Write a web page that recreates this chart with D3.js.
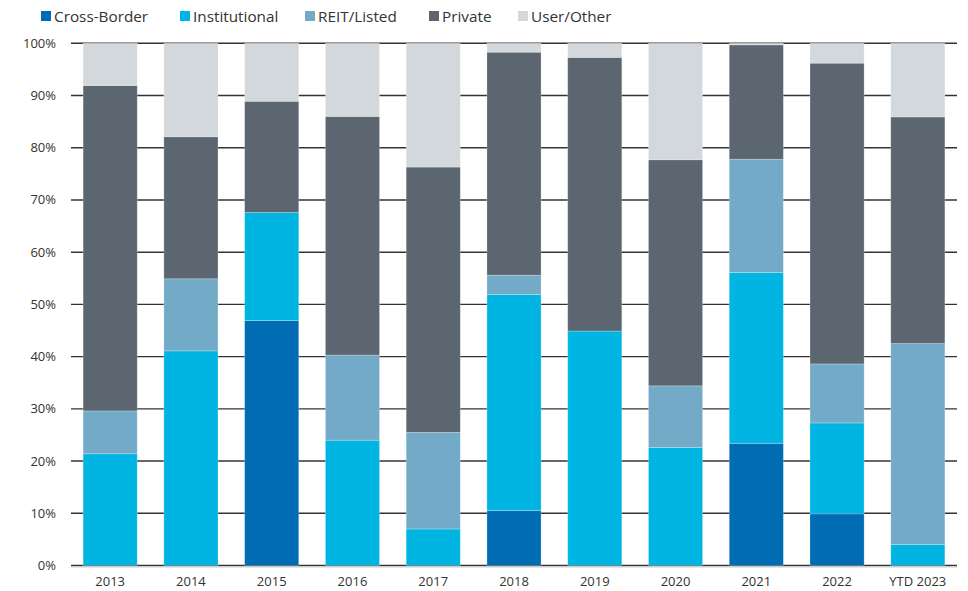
<!DOCTYPE html>
<html>
<head>
<meta charset="utf-8">
<script src="https://cdn.jsdelivr.net/npm/d3@7"></script>
<style>
  body { margin: 0; background: #fff; }
  svg text { font-family: "Open Sans", sans-serif; fill: #333; }
</style>
</head>
<body>
<div id="app"></div>
<script>
const years = [`2013`, `2014`, `2015`, `2016`, `2017`, `2018`, `2019`, `2020`, `2021`, `2022`, `YTD 2023`];
const seriesNames = [`Cross-Border`, `Institutional`, `REIT/Listed`, `Private`, `User/Other`];
const crossBorder   = [0,    0,    46.9, 0,    0,    10.5, 0,    0,    23.4, 9.9,  0];
const institutional = [21.4, 41.1, 20.7, 24.0, 7.0,  41.4, 44.9, 22.6, 32.7, 17.4, 4.0];
const reitListed    = [8.2,  13.8, 0,    16.3, 18.5, 3.7,  0,    11.8, 21.7, 11.3, 38.5];
const privateBuyers = [62.3, 27.2, 21.3, 45.7, 50.8, 42.7, 52.4, 43.3, 21.9, 57.6, 43.4];
const userOther     = [8.1,  17.9, 11.1, 14.0, 23.7, 1.7,  2.7,  22.3, 0.3,  3.8,  14.1];
const yTicks = [0, 10, 20, 30, 40, 50, 60, 70, 80, 90, 100];
const colors = [`#006cb4`, `#00b5e2`, `#73aac8`, `#5b6670`, `#d3d8dc`];

const W = 968, H = 591;
const M = {left: 71, right: 11, top: 43.3, bottom: 25.5};

const rows = years.map((yr, i) => ({
  year: yr,
  [seriesNames[0]]: crossBorder[i],
  [seriesNames[1]]: institutional[i],
  [seriesNames[2]]: reitListed[i],
  [seriesNames[3]]: privateBuyers[i],
  [seriesNames[4]]: userOther[i]
}));

const stack = d3.stack().keys(seriesNames)(rows);

const x = d3.scaleBand().domain(years).range([M.left, W - M.right]).paddingInner(0.33).paddingOuter(0.15);
const y = d3.scaleLinear().domain([0, 100]).range([H - M.bottom, M.top]);
const color = d3.scaleOrdinal().domain(seriesNames).range(colors);

const svg = d3.select(`#app`).append(`svg`).attr(`width`, W).attr(`height`, H);

// grid lines
svg.append(`g`).selectAll(`line`).data(yTicks).enter().append(`line`)
  .attr(`x1`, M.left).attr(`x2`, W - M.right)
  .attr(`y1`, d => y(d)).attr(`y2`, d => y(d))
  .attr(`stroke`, `#333`).attr(`stroke-width`, 1.4);

// light line under baseline
svg.append(`line`).attr(`x1`, M.left).attr(`x2`, W - M.right)
  .attr(`y1`, y(0) + 1.5).attr(`y2`, y(0) + 1.5)
  .attr(`stroke`, `#ccc`).attr(`stroke-width`, 1);

// bars
svg.append(`g`).selectAll(`g`).data(stack).enter().append(`g`)
  .attr(`fill`, d => color(d.key))
  .selectAll(`rect`).data(d => d.filter(s => s[1] - s[0] > 0)).enter().append(`rect`)
  .attr(`x`, d => x(d.data.year))
  .attr(`width`, x.bandwidth())
  .attr(`y`, d => y(d[1]))
  .attr(`height`, d => y(d[0]) - y(d[1]))
  .attr(`stroke`, `rgba(255,255,255,0.3)`).attr(`stroke-width`, 0.8);

// y labels
svg.append(`g`).selectAll(`text`).data(yTicks).enter().append(`text`)
  .attr(`x`, 56).attr(`y`, d => y(d) + 4.5)
  .attr(`text-anchor`, `end`).attr(`font-size`, `13px`)
  .text(d => d + `%`);

// x labels
svg.append(`g`).selectAll(`text`).data(years).enter().append(`text`)
  .attr(`x`, d => x(d) + x.bandwidth() / 2).attr(`y`, 586)
  .attr(`text-anchor`, `middle`).attr(`font-size`, `13px`)
  .text(d => d);

// legend
const legendX = [41, 180, 305, 429, 518];
const legend = svg.append(`g`).selectAll(`g`).data(seriesNames).enter().append(`g`)
  .attr(`transform`, (d, i) => `translate(${legendX[i]},0)`);
legend.append(`rect`).attr(`x`, 0).attr(`y`, 11).attr(`width`, 10).attr(`height`, 10)
  .attr(`fill`, d => color(d));
legend.append(`text`).attr(`x`, 13).attr(`y`, 22).attr(`font-size`, `15.3px`)
  .text(d => d);
</script>
</body>
</html>
